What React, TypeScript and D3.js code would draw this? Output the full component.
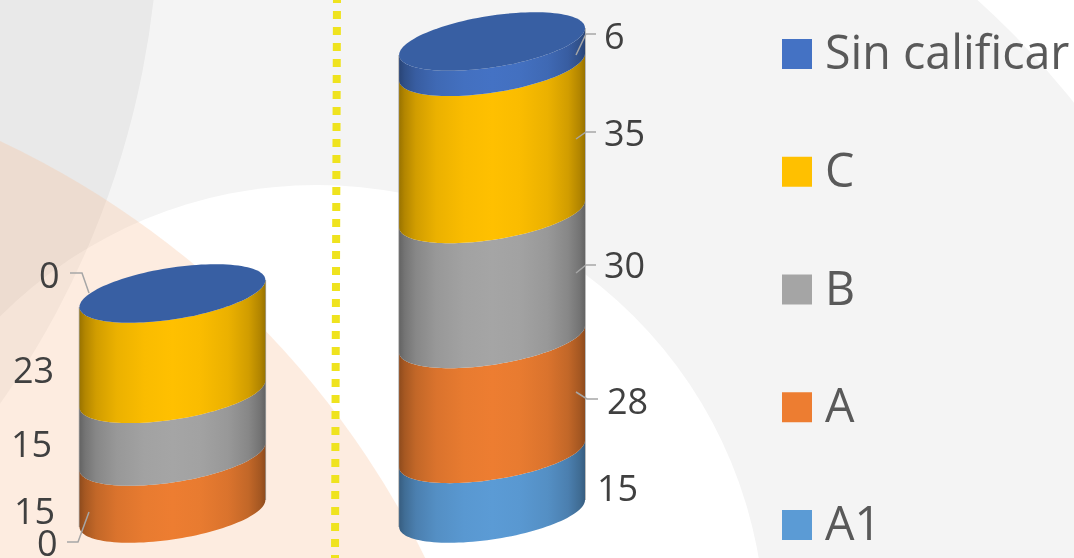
import React from "react";
import * as d3 from "d3";

const W = 1074, H = 558;
const columns = ["col1", "col2"];
const seriesNames = ["A1", "A", "B", "C", "Sin calificar"];
const a1 = [0, 15];
const a = [15, 28];
const b = [15, 30];
const c = [23, 35];
const sinCalificar = [0, 6];
const seriesValues = [a1, a, b, c, sinCalificar];
const seriesColors = ["#5B9BD5", "#ED7D31", "#A5A5A5", "#FFC000", "#4472C4"];
const legendOrder = ["Sin calificar", "C", "B", "A", "A1"];

// layout (not data)
const labelPos: [number, number][][] = [
  [[37, 556], [14, 524], [11, 457], [13, 383], [39, 288]],
  [[597, 501], [607, 414], [604, 278], [604, 146], [604, 49]],
];
const leaders: [number, number][][] = [
  [[67, 542], [78, 542], [89, 512]],
  [[70, 273], [82, 273], [89, 293]],
  [[596, 34], [586, 34], [576, 55]],
  [[596, 132], [586, 132], [576, 139]],
  [[596, 265], [586, 265], [576, 273]],
  [[598, 399], [587, 399], [576, 392]],
];

const x = d3.scaleBand<string>().domain(columns).range([79.5, 585]).paddingInner(0.4185).paddingOuter(0);
const colScales = [
  d3.scalePow().exponent(1.07).domain([0, 53]).range([513.5, 293.5]),
  d3.scalePow().exponent(1.02).domain([0, 114]).range([513.5, 41.5]),
];
const TILT = 0.145;
const ELL_H = 26;

const tableRows = columns.map((col, i) => {
  const row: Record<string, number> = {};
  seriesNames.forEach((s, j) => (row[s] = seriesValues[j][i]));
  return row;
});
const stacked = d3.stack<Record<string, number>>().keys(seriesNames)(tableRows);

const line = d3.line<[number, number]>().curve(d3.curveLinear);
const ts = d3.range(0, 61).map((i) => (Math.PI * i) / 60);

function frontArc(cx: number, rx: number, yc: number, reverse: boolean): [number, number][] {
  const pts = ts.map((t): [number, number] => {
    const dx = -rx * Math.cos(t);
    return [cx + dx, yc - TILT * dx + ELL_H * Math.sin(t)];
  });
  return reverse ? pts.reverse() : pts;
}
function backArc(cx: number, rx: number, yc: number): [number, number][] {
  return ts.map((t): [number, number] => {
    const dx = rx * Math.cos(t);
    return [cx + dx, yc - TILT * dx - ELL_H * Math.sin(t)];
  });
}
const shade = (col: string, t: number) => d3.interpolateRgb(col, "#000")(t);
const gradStops: [number, number][] = [[0, 0.4], [0.03, 0.3], [0.09, 0.18], [0.2, 0.08], [0.35, 0.02], [0.5, 0], [0.65, 0.02], [0.8, 0.08], [0.91, 0.18], [0.97, 0.3], [1, 0.4]];
const FONT = "'Open Sans', sans-serif";

export default function App() {
  const rx = x.bandwidth() / 2;
  return (
    <svg width={W} height={H} viewBox={`0 0 ${W} ${H}`} style={{ position: "absolute", left: 0, top: 0, display: "block" }}>
      <defs>
        {seriesNames.map((s, j) => (
          <linearGradient key={s} id={`g${j}`} x1="0" x2="1" y1="0" y2="0">
            {gradStops.map(([o, t]) => (
              <stop key={o} offset={o} stopColor={shade(seriesColors[j], t)} />
            ))}
          </linearGradient>
        ))}
      </defs>
      {/* background */}
      <rect width={W} height={H} fill="#fff" />
      <circle cx={400} cy={640} r={862} fill="#F4F4F4" />
      <circle cx={317} cy={633} r={448} fill="#fff" />
      <circle cx={-709} cy={-97} r={868} fill="#F4F4F4" style={{ mixBlendMode: "multiply" }} />
      <circle cx={-382} cy={956} r={900} fill="rgb(248,192,152)" opacity={0.3} />
      {/* divider */}
      <line x1={337} y1={-5} x2={335} y2={H} stroke="#EFE31E" strokeWidth={8} strokeDasharray="8 8" />

      {/* cylinders */}
      {columns.map((col, i) => {
        const cx = x(col)! + rx;
        const y = colScales[i];
        const topY = y(d3.sum(seriesValues, (v) => v[i]));
        return (
          <g key={col}>
            <line x1={cx - rx} x2={cx - rx} y1={topY + TILT * rx} y2={y(0) + TILT * rx} stroke="#A6A6A6" strokeWidth={1.5} />
            <line x1={cx + rx} x2={cx + rx} y1={topY - TILT * rx} y2={y(0) - TILT * rx} stroke="#A6A6A6" strokeWidth={1.5} />
            {stacked.map((layer, j) => {
              const [y0, y1] = layer[i];
              if (y1 === y0) return null;
              const pts = [...frontArc(cx, rx, y(y0), false), ...frontArc(cx, rx, y(y1), true)];
              return <path key={j} d={line(pts)! + "Z"} fill={`url(#g${j})`} />;
            })}
            <path
              d={line([...frontArc(cx, rx, topY, false).reverse(), ...backArc(cx, rx, topY).reverse()])! + "Z"}
              fill={shade(seriesColors[4], 0.17)}
            />
          </g>
        );
      })}

      {/* leaders */}
      {leaders.map((pts, i) => (
        <path key={i} d={line(pts)!} fill="none" stroke="#A6A6A6" strokeWidth={1.5} />
      ))}

      {/* data labels */}
      {columns.map((col, i) =>
        seriesValues.map((v, j) => (
          <text key={`${col}${j}`} x={labelPos[i][j][0]} y={labelPos[i][j][1]} fontFamily={FONT} fontSize={36} fill="#404040">
            {v[i]}
          </text>
        ))
      )}

      {/* legend */}
      {legendOrder.map((name, i) => {
        const yy = 39 + i * 117.75;
        return (
          <g key={name}>
            <rect x={782} y={yy} width={30} height={30} fill={seriesColors[seriesNames.indexOf(name)]} />
            <text x={825} y={yy + 30} fontFamily={FONT} fontSize={46.6} fill="#595959">
              {name}
            </text>
          </g>
        );
      })}
    </svg>
  );
}
